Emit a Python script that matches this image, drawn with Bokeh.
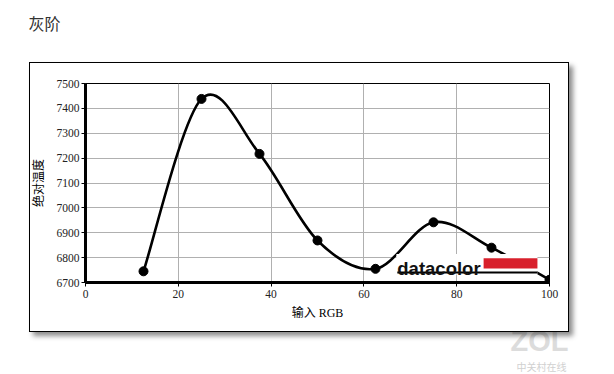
from bokeh.plotting import figure
from bokeh.models import FixedTicker, BoxAnnotation, Label, Range1d, Title, InlineStyleSheet
from bokeh.embed import file_html
from bokeh.resources import INLINE

# ---- data ----
x_rgb = [12.5, 25, 37.5, 50, 62.5, 75, 87.5, 100]
abs_temp = [6745, 7438, 7217, 6869, 6755, 6942, 6840, 6711]
x_ticks = [0, 20, 40, 60, 80, 100]
y_ticks = [6700, 6800, 6900, 7000, 7100, 7200, 7300, 7400, 7500]

title_text = "灰阶"
x_label = "输入 RGB"
y_label = "绝对温度"
logo_text = "datacolor"
watermark = "ZOL"
watermark_sub = "中关村在线"

CJK = "Noto Sans CJK SC"

# framed panel with drop shadow around the chart (drawn by CSS, outside the plot frame)
frame_css = InlineStyleSheet(css="""
:host { position: relative; }
:host::after {
  content: "";
  position: absolute;
  left: 29px; top: 62px; width: 538px; height: 268px;
  border: 1px solid #000;
  box-shadow: 4px 4px 5px rgba(0,0,0,0.45);
  pointer-events: none;
}
""")

p = figure(width=598, height=374, output_backend="svg", toolbar_location=None,
           x_range=Range1d(0, 100), y_range=Range1d(6700, 7500),
           min_border_left=85, min_border_right=49, min_border_top=83, min_border_bottom=92,
           background_fill_color="white", border_fill_color="white",
           stylesheets=[frame_css])

# smooth curve through the points (Catmull-Rom as cubic Bezier segments)
n = len(x_rgb)
bx0, by0, bx1, by1, cx0, cy0, cx1, cy1 = ([] for _ in range(8))
for i in range(n - 1):
    a = i - 1 if i > 0 else i
    d = i + 2 if i + 2 < n else i + 1
    bx0.append(x_rgb[i]); by0.append(abs_temp[i])
    bx1.append(x_rgb[i + 1]); by1.append(abs_temp[i + 1])
    cx0.append(x_rgb[i] + (x_rgb[i + 1] - x_rgb[a]) / 6)
    cy0.append(abs_temp[i] + (abs_temp[i + 1] - abs_temp[a]) / 6)
    cx1.append(x_rgb[i + 1] - (x_rgb[d] - x_rgb[i]) / 6)
    cy1.append(abs_temp[i + 1] - (abs_temp[d] - abs_temp[i]) / 6)
p.bezier(x0=bx0, y0=by0, x1=bx1, y1=by1, cx0=cx0, cy0=cy0, cx1=cx1, cy1=cy1,
         line_color="black", line_width=2.6)
p.scatter(x_rgb, abs_temp, size=9, color="black")

# axes
p.xaxis.ticker = FixedTicker(ticks=x_ticks)
p.yaxis.ticker = FixedTicker(ticks=y_ticks)
for ax in (p.xaxis, p.yaxis):
    ax.axis_line_width = 3
    ax.axis_line_color = "black"
    ax.major_tick_out = 4
    ax.major_tick_in = 0
    ax.major_tick_line_color = "black"
    ax.minor_tick_line_color = None
    ax.major_label_text_font = "Liberation Serif"
    ax.major_label_text_font_size = "11.5px"
    ax.major_label_text_color = "#222222"
    ax.axis_label_text_font_style = "normal"
    ax.axis_label_text_color = "black"
    ax.axis_label_text_font_size = "12px"
p.xaxis.major_label_standoff = 3
p.yaxis.major_label_standoff = 2
p.xaxis.axis_label = x_label
p.yaxis.axis_label = y_label
p.xaxis.axis_label_text_font = "Liberation Serif, Noto Sans CJK SC"
p.yaxis.axis_label_text_font = CJK
p.xaxis.axis_label_standoff = 5
p.yaxis.axis_label_standoff = 8

p.xgrid.grid_line_color = "#b0b0b0"
p.ygrid.grid_line_color = "#b0b0b0"
p.outline_line_color = "black"
p.outline_line_width = 1
p.outline_line_alpha = 1

# datacolor logo (white patch hides the curve behind it)
p.add_layout(BoxAnnotation(left=67.0, right=97.4, top=6815, bottom=6732,
                           fill_color="white", fill_alpha=1, line_color=None))
p.add_layout(BoxAnnotation(left=85.8, right=97.4, top=6797, bottom=6756,
                           fill_color="#d8202c", fill_alpha=1, line_color=None))
p.add_layout(BoxAnnotation(left=67.2, right=97.4, top=6744, bottom=6736,
                           fill_color="black", fill_alpha=1, line_color=None))
p.add_layout(Label(x=67.2, y=6756, text=logo_text, text_font="Liberation Sans",
                   text_font_style="bold", text_font_size="18.5px", text_color="#111111",
                   text_baseline="alphabetic"))

# title: a blank spacer sits between the frame and the title text
p.add_layout(Title(text=" ", text_font_size="1px", standoff=41, text_color="white"), "above")
p.add_layout(Title(text=title_text, align="left", text_font=CJK, text_font_size="16px",
                   text_color="#333333", text_font_style="normal", offset=-57,
                   standoff=10), "above")

# watermark
p.add_layout(Title(text=watermark, align="right", text_font="Liberation Sans",
                   text_font_size="29px", text_color="#dcdcdc", text_font_style="bold",
                   offset=-19, standoff=0), "below")
p.add_layout(Title(text=watermark_sub, align="right", text_font=CJK, text_font_size="10px",
                   text_color="#d0d0d0", text_font_style="normal", offset=-17,
                   standoff=0), "below")

open("out.html", "w").write(file_html(p, INLINE))
